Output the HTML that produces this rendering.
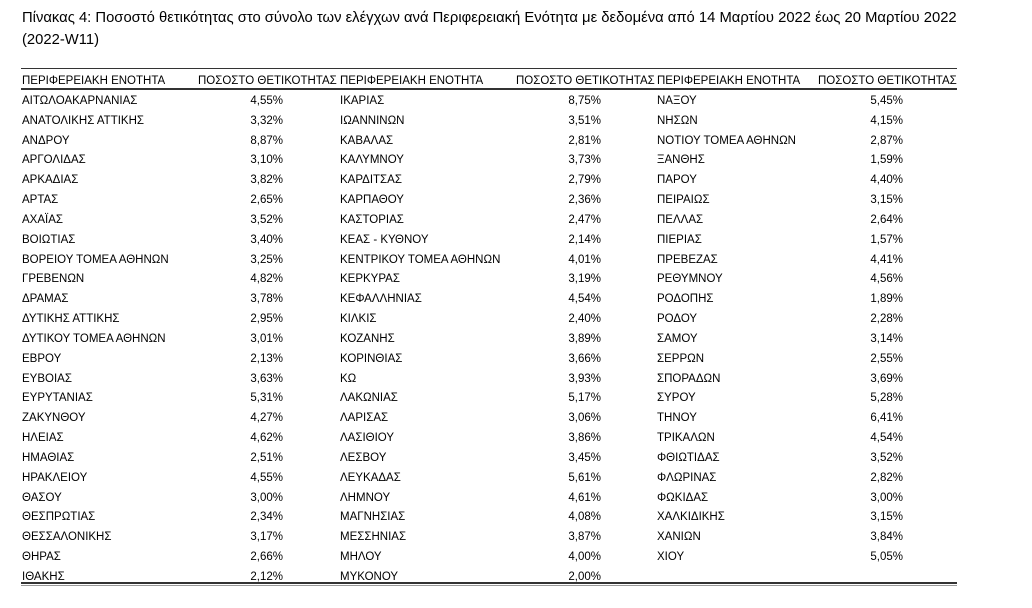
<!DOCTYPE html>
<html><head><meta charset="utf-8">
<style>
body{margin:0;width:1032px;height:608px;background:#fff;position:relative;font-family:"Liberation Sans","DejaVu Sans",sans-serif;color:#000;overflow:hidden}
.t{position:absolute;left:22px;font-size:14.8px;white-space:nowrap}
.l{position:absolute;left:21px;width:936px;background:#333}
.c{position:absolute;font-size:11.5px;white-space:nowrap;line-height:14px}
.r{text-align:right}
</style></head><body>
<div class="t" style="top:10px">Πίνακας 4: Ποσοστό θετικότητας στο σύνολο των ελέγχων ανά Περιφερειακή Ενότητα με δεδομένα από 14 Μαρτίου 2022 έως 20 Μαρτίου 2022</div>
<div class="t" style="top:32px">(2022-W11)</div>
<div class="l" style="top:68px;height:1px"></div>
<div class="l" style="top:88px;height:1.5px"></div>
<div class="l" style="top:582px;height:2px"></div>
<div class="l" style="top:585px;height:1px;background:#999"></div>
<div id="h"></div>
<script>
var c1=[["ΑΙΤΩΛΟΑΚΑΡΝΑΝΙΑΣ","4,55%"],["ΑΝΑΤΟΛΙΚΗΣ ΑΤΤΙΚΗΣ","3,32%"],["ΑΝΔΡΟΥ","8,87%"],["ΑΡΓΟΛΙΔΑΣ","3,10%"],["ΑΡΚΑΔΙΑΣ","3,82%"],["ΑΡΤΑΣ","2,65%"],["ΑΧΑΪΑΣ","3,52%"],["ΒΟΙΩΤΙΑΣ","3,40%"],["ΒΟΡΕΙΟΥ ΤΟΜΕΑ ΑΘΗΝΩΝ","3,25%"],["ΓΡΕΒΕΝΩΝ","4,82%"],["ΔΡΑΜΑΣ","3,78%"],["ΔΥΤΙΚΗΣ ΑΤΤΙΚΗΣ","2,95%"],["ΔΥΤΙΚΟΥ ΤΟΜΕΑ ΑΘΗΝΩΝ","3,01%"],["ΕΒΡΟΥ","2,13%"],["ΕΥΒΟΙΑΣ","3,63%"],["ΕΥΡΥΤΑΝΙΑΣ","5,31%"],["ΖΑΚΥΝΘΟΥ","4,27%"],["ΗΛΕΙΑΣ","4,62%"],["ΗΜΑΘΙΑΣ","2,51%"],["ΗΡΑΚΛΕΙΟΥ","4,55%"],["ΘΑΣΟΥ","3,00%"],["ΘΕΣΠΡΩΤΙΑΣ","2,34%"],["ΘΕΣΣΑΛΟΝΙΚΗΣ","3,17%"],["ΘΗΡΑΣ","2,66%"],["ΙΘΑΚΗΣ","2,12%"]];
var c2=[["ΙΚΑΡΙΑΣ","8,75%"],["ΙΩΑΝΝΙΝΩΝ","3,51%"],["ΚΑΒΑΛΑΣ","2,81%"],["ΚΑΛΥΜΝΟΥ","3,73%"],["ΚΑΡΔΙΤΣΑΣ","2,79%"],["ΚΑΡΠΑΘΟΥ","2,36%"],["ΚΑΣΤΟΡΙΑΣ","2,47%"],["ΚΕΑΣ - ΚΥΘΝΟΥ","2,14%"],["ΚΕΝΤΡΙΚΟΥ ΤΟΜΕΑ ΑΘΗΝΩΝ","4,01%"],["ΚΕΡΚΥΡΑΣ","3,19%"],["ΚΕΦΑΛΛΗΝΙΑΣ","4,54%"],["ΚΙΛΚΙΣ","2,40%"],["ΚΟΖΑΝΗΣ","3,89%"],["ΚΟΡΙΝΘΙΑΣ","3,66%"],["ΚΩ","3,93%"],["ΛΑΚΩΝΙΑΣ","5,17%"],["ΛΑΡΙΣΑΣ","3,06%"],["ΛΑΣΙΘΙΟΥ","3,86%"],["ΛΕΣΒΟΥ","3,45%"],["ΛΕΥΚΑΔΑΣ","5,61%"],["ΛΗΜΝΟΥ","4,61%"],["ΜΑΓΝΗΣΙΑΣ","4,08%"],["ΜΕΣΣΗΝΙΑΣ","3,87%"],["ΜΗΛΟΥ","4,00%"],["ΜΥΚΟΝΟΥ","2,00%"]];
var c3=[["ΝΑΞΟΥ","5,45%"],["ΝΗΣΩΝ","4,15%"],["ΝΟΤΙΟΥ ΤΟΜΕΑ ΑΘΗΝΩΝ","2,87%"],["ΞΑΝΘΗΣ","1,59%"],["ΠΑΡΟΥ","4,40%"],["ΠΕΙΡΑΙΩΣ","3,15%"],["ΠΕΛΛΑΣ","2,64%"],["ΠΙΕΡΙΑΣ","1,57%"],["ΠΡΕΒΕΖΑΣ","4,41%"],["ΡΕΘΥΜΝΟΥ","4,56%"],["ΡΟΔΟΠΗΣ","1,89%"],["ΡΟΔΟΥ","2,28%"],["ΣΑΜΟΥ","3,14%"],["ΣΕΡΡΩΝ","2,55%"],["ΣΠΟΡΑΔΩΝ","3,69%"],["ΣΥΡΟΥ","5,28%"],["ΤΗΝΟΥ","6,41%"],["ΤΡΙΚΑΛΩΝ","4,54%"],["ΦΘΙΩΤΙΔΑΣ","3,52%"],["ΦΛΩΡΙΝΑΣ","2,82%"],["ΦΩΚΙΔΑΣ","3,00%"],["ΧΑΛΚΙΔΙΚΗΣ","3,15%"],["ΧΑΝΙΩΝ","3,84%"],["ΧΙΟΥ","5,05%"]];
var cols=[[c1,22,283,198],[c2,340,601,516],[c3,657,903,818]];
var h="";
cols.forEach(function(k){
 h+='<div class="c" style="left:'+k[1]+'px;top:74px">ΠΕΡΙΦΕΡΕΙΑΚΗ ΕΝΟΤΗΤΑ</div>';
 h+='<div class="c" style="left:'+k[3]+'px;top:74px">ΠΟΣΟΣΤΟ ΘΕΤΙΚΟΤΗΤΑΣ</div>';
 k[0].forEach(function(r,i){
  var y=94+i*19.83;
  h+='<div class="c" style="left:'+k[1]+'px;top:'+y+'px">'+r[0]+'</div>';
  h+='<div class="c r" style="right:'+(1032-k[2])+'px;top:'+y+'px">'+r[1]+'</div>';
 });
});
document.getElementById("h").innerHTML=h;
</script>
</body></html>
